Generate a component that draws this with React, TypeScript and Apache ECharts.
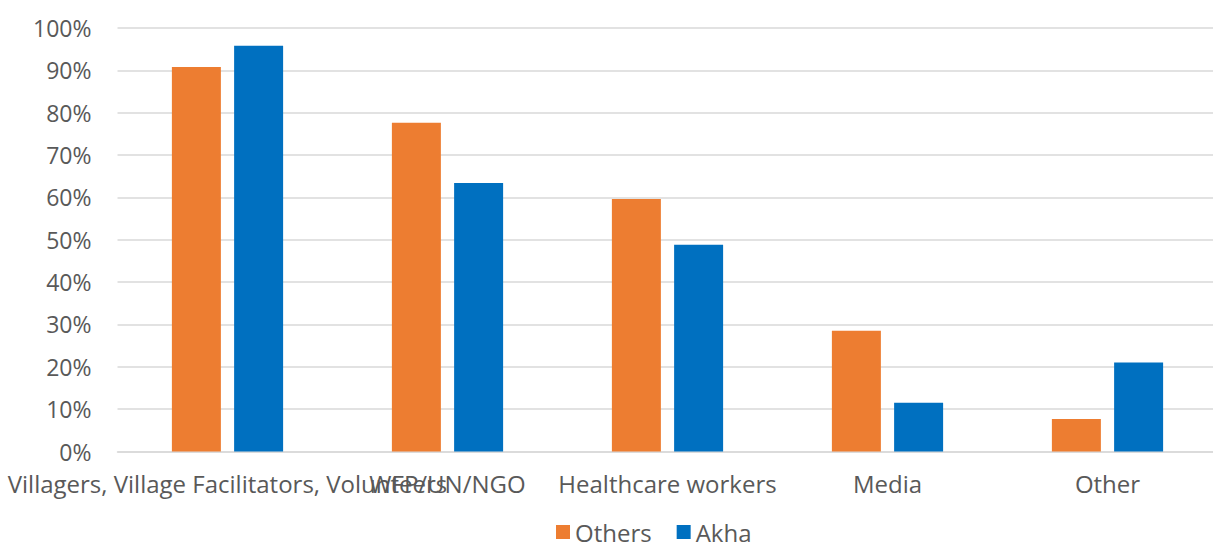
import React, { useEffect, useRef } from "react";
import * as echarts from "echarts";

const categories = [
  "Villagers, Village Facilitators, Volunteers",
  "WFP/UN/NGO",
  "Healthcare workers",
  "Media",
  "Other",
];
const othersValues = [90.8, 77.6, 59.6, 28.5, 7.7];
const akhaValues = [95.8, 63.4, 48.8, 11.5, 21.0];
const seriesNames = ["Others", "Akha"];

export default function App() {
  const ref = useRef<HTMLDivElement>(null);
  useEffect(() => {
    if (!ref.current) return;
    const chart = echarts.init(ref.current, null, { renderer: "svg" });
    const font = "'Open Sans', 'Noto Sans', sans-serif";
    chart.setOption({
      animation: false,
      textStyle: { fontFamily: font },
      grid: { left: 117.5, width: 1100, top: 28, bottom: 91.5, containLabel: false },
      legend: {
        data: seriesNames,
        top: 520,
        left: 556,
        padding: 0,
        itemWidth: 14,
        itemHeight: 14,
        itemGap: 25,
        icon: "rect",
        textStyle: { fontSize: 24, color: "#595959", fontFamily: font },
      },
      xAxis: {
        type: "category",
        data: categories,
        axisLine: { show: true, lineStyle: { color: "#d9d9d9", width: 1.5 } },
        axisTick: { show: false },
        axisLabel: {
          interval: 0,
          hideOverlap: false,
          fontSize: 24,
          color: "#595959",
          fontFamily: font,
          margin: 20,
        },
      },
      yAxis: {
        type: "value",
        min: 0,
        max: 100,
        interval: 10,
        axisLine: { show: false },
        axisTick: { show: false },
        splitLine: { lineStyle: { color: "#d9d9d9", width: 1.5 } },
        axisLabel: {
          formatter: "{value}%",
          fontSize: 23,
          color: "#595959",
          fontFamily: font,
          margin: 26,
        },
      },
      series: [
        {
          name: seriesNames[0],
          type: "bar",
          data: othersValues,
          barWidth: 49,
          barGap: "27%",
          itemStyle: { color: "#ED7D31" },
        },
        {
          name: seriesNames[1],
          type: "bar",
          data: akhaValues,
          barWidth: 49,
          barGap: "27%",
          itemStyle: { color: "#0070C0" },
        },
      ],
    });
    return () => chart.dispose();
  }, []);
  return (
    <div
      ref={ref}
      style={{ position: "fixed", left: 0, top: 0, width: 1225, height: 543, background: "#fff" }}
    />
  );
}
